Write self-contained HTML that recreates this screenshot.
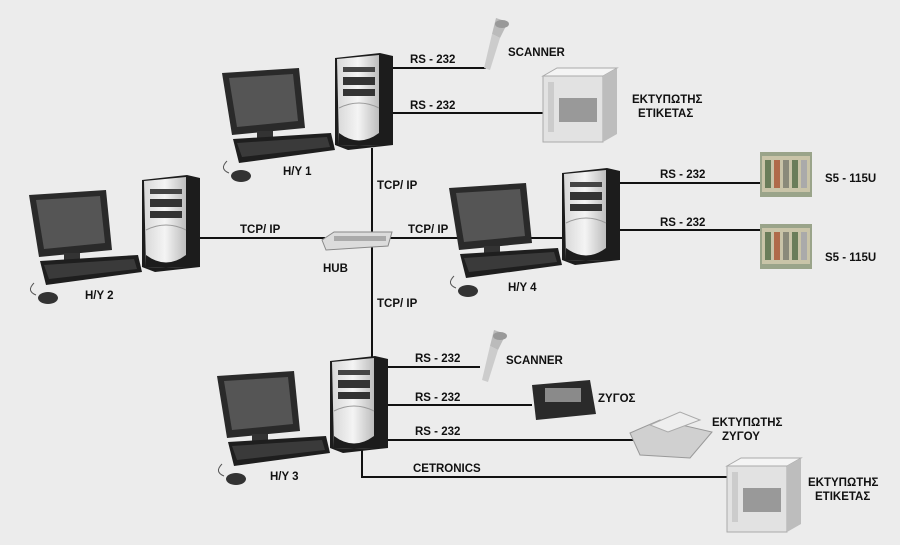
<!DOCTYPE html>
<html><head><meta charset="utf-8"><style>
html,body{margin:0;padding:0;background:#ececec}
svg{display:block}
text{font-family:"Liberation Sans",Arial,sans-serif;font-weight:bold;font-size:11.5px;fill:#111}
</style></head><body>
<svg width="900" height="545" viewBox="0 0 900 545" xmlns="http://www.w3.org/2000/svg">
<defs>
<linearGradient id="tw" x1="0" x2="1"><stop offset="0" stop-color="#d8d8d8"/><stop offset="0.5" stop-color="#f4f4f4"/><stop offset="1" stop-color="#bdbdbd"/></linearGradient>
<g id="pc">
  <!-- monitor -->
  <polygon points="-113,20 -36,15 -30,75 -103,82" fill="#2a2a2a"/>
  <polygon points="-106,25 -42,21 -37,68 -98,74" fill="#555"/>
  <rect x="-78" y="78" width="16" height="8" fill="#333"/>
  <!-- keyboard -->
  <polygon points="-102,86 -4,80 0,97 -96,110" fill="#1e1e1e"/>
  <polygon points="-98,90 -8,84 -5,94 -93,104" fill="#3a3a3a"/>
  <!-- mouse -->
  <path d="M-108,108 q-8,8 2,12" stroke="#555" fill="none"/>
  <ellipse cx="-94" cy="123" rx="10" ry="6" fill="#333"/>
  <!-- tower -->
  <polygon points="0,5 45,0 58,3 58,92 13,97 0,92" fill="#1c1c1c"/>
  <polygon points="2,6 44,2 44,93 4,92" fill="url(#tw)"/>
  <rect x="8" y="14" width="32" height="5" fill="#444"/>
  <rect x="8" y="24" width="32" height="8" fill="#333"/>
  <rect x="8" y="36" width="32" height="7" fill="#333"/>
  <path d="M4,55 Q24,45 44,55" stroke="#999" fill="none"/>
  <path d="M4,80 Q24,95 44,80 L44,93 L4,92Z" fill="#1c1c1c"/>
</g>
<g id="printer">
  <rect x="0" y="8" width="60" height="66" fill="#e2e2e2" stroke="#aaa"/>
  <polygon points="0,8 14,0 74,0 60,8" fill="#f4f4f4" stroke="#aaa"/>
  <polygon points="60,8 74,0 74,66 60,74" fill="#bdbdbd"/>
  <rect x="16" y="30" width="38" height="24" fill="#999"/>
  <rect x="5" y="14" width="6" height="50" fill="#ccc"/>
</g>
<g id="plc">
  <rect x="0" y="0" width="52" height="45" fill="#9aa48a"/>
  <rect x="2" y="4" width="48" height="36" fill="#c9c4a8"/>
  <rect x="5" y="8" width="6" height="28" fill="#6a7d5a"/>
  <rect x="14" y="8" width="6" height="28" fill="#b06a4a"/>
  <rect x="23" y="8" width="6" height="28" fill="#8a8a7a"/>
  <rect x="32" y="8" width="6" height="28" fill="#6a7d5a"/>
  <rect x="41" y="8" width="6" height="28" fill="#aaa"/>
</g>
<g id="scanner">
  <polygon points="20,0 32,4 24,20 16,16" fill="#bbb"/>
  <polygon points="16,16 24,20 14,52 8,50" fill="#ccc"/>
  <ellipse cx="26" cy="6" rx="7" ry="4" fill="#999"/>
</g>
</defs>

<!-- lines -->
<g stroke="#111" stroke-width="2" fill="none">
  <line x1="372" y1="148" x2="372" y2="358"/>
  <line x1="200" y1="238" x2="325" y2="238"/>
  <line x1="388" y1="238" x2="563" y2="238"/>
  <line x1="392" y1="68" x2="486" y2="68"/>
  <line x1="392" y1="113" x2="545" y2="113"/>
  <line x1="620" y1="183" x2="762" y2="183"/>
  <line x1="620" y1="230" x2="762" y2="230"/>
  <line x1="386" y1="367" x2="480" y2="367"/>
  <line x1="386" y1="405" x2="532" y2="405"/>
  <line x1="386" y1="440" x2="640" y2="440"/>
  <polyline points="362,450 362,477 728,477"/>
</g>

<use href="#pc" x="335" y="53"/>
<use href="#pc" x="142" y="175"/>
<use href="#pc" x="562" y="168"/>
<use href="#pc" x="330" y="356"/>

<!-- hub -->
<polygon points="322,240 334,232 392,232 388,246 326,250" fill="#dcdcdc" stroke="#888"/>
<rect x="334" y="236" width="52" height="5" fill="#aaa"/>

<use href="#scanner" x="476" y="18"/>
<use href="#scanner" x="474" y="330"/>
<use href="#printer" x="543" y="68"/>
<use href="#printer" x="727" y="458"/>
<use href="#plc" x="760" y="152"/>
<use href="#plc" x="760" y="224"/>

<!-- scale -->
<polygon points="532,385 590,380 596,414 536,420" fill="#2a2a2a"/>
<rect x="545" y="388" width="36" height="14" fill="#8a8a8a"/>
<!-- dot matrix printer -->
<polygon points="630,433 660,420 712,432 690,458 640,455" fill="#d0d0d0" stroke="#999"/>
<polygon points="650,425 680,412 700,420 668,432" fill="#eee" stroke="#aaa"/>

<!-- labels -->
<text x="410" y="63">RS - 232</text>
<text x="508" y="56">SCANNER</text>
<text x="410" y="109">RS - 232</text>
<text x="632" y="103">ΕΚΤΥΠΩΤΗΣ</text>
<text x="638" y="117">ΕΤΙΚΕΤΑΣ</text>
<text x="283" y="175">H/Y 1</text>
<text x="377" y="189">TCP/ IP</text>
<text x="240" y="233">TCP/ IP</text>
<text x="408" y="233">TCP/ IP</text>
<text x="323" y="272">HUB</text>
<text x="85" y="299">H/Y 2</text>
<text x="508" y="291">H/Y 4</text>
<text x="660" y="178">RS - 232</text>
<text x="660" y="226">RS - 232</text>
<text x="825" y="182">S5 - 115U</text>
<text x="825" y="261">S5 - 115U</text>
<text x="377" y="307">TCP/ IP</text>
<text x="415" y="362">RS - 232</text>
<text x="506" y="364">SCANNER</text>
<text x="415" y="401">RS - 232</text>
<text x="598" y="402">ΖΥΓΟΣ</text>
<text x="415" y="435">RS - 232</text>
<text x="712" y="426">ΕΚΤΥΠΩΤΗΣ</text>
<text x="722" y="440">ΖΥΓΟΥ</text>
<text x="270" y="480">H/Y 3</text>
<text x="413" y="472">CETRONICS</text>
<text x="808" y="486">ΕΚΤΥΠΩΤΗΣ</text>
<text x="815" y="500">ΕΤΙΚΕΤΑΣ</text>
</svg>
</body></html>
